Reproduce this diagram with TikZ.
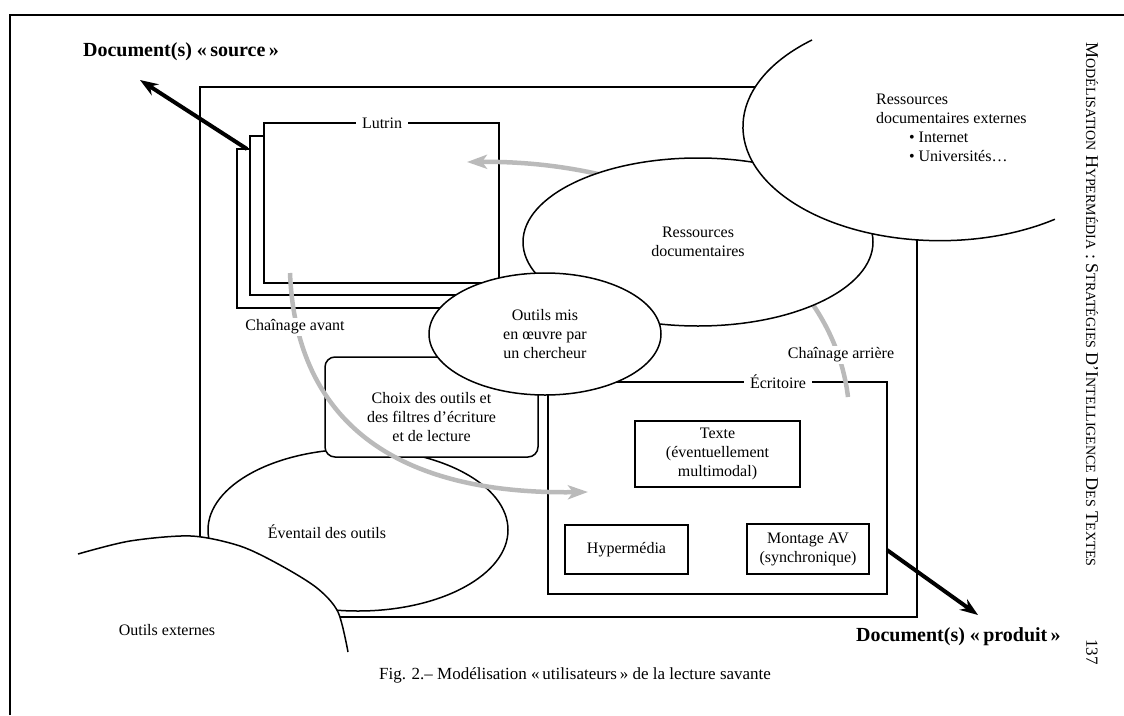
\documentclass[tikz,border=0pt]{standalone}
\usepackage{fontspec}
\setmainfont{Liberation Serif}
\usetikzlibrary{shapes.geometric,arrows.meta}

\newcommand{\smallcap}[1]{{\fontsize{14}{16}\selectfont #1}}

\begin{document}
\begin{tikzpicture}[x=1pt, y=-1pt, line width=1.5pt,
    every node/.style = {font=\fontsize{16}{19}\selectfont},
    ell/.style = {draw, ellipse, fill=white, inner sep=0pt, align=center},
    box/.style = {draw, fill=white, inner sep=0pt, align=center},
    tag/.style = {fill=white, inner xsep=6pt, inner ysep=2pt},
    chain/.style = {draw=black!27, line width=4.5pt, -{Stealth[length=20pt, width=14pt, inset=5pt]}},
    doc/.style = {font=\fontsize{20}{24}\selectfont\bfseries},
    docarrow/.style = {line width=4pt, -{Stealth[length=18pt, width=13pt]}}]
    \useasboundingbox (0,0) rectangle (1124,715);
    \draw[line width=2pt] (10,715) -- (10,15) -- (1124,15);
    \draw (200,87) rectangle (917,617);
    % lutrin
    \draw[fill=white] (237,149) rectangle (487,308);
    \draw[fill=white] (250,136) rectangle (493,295);
    \draw[fill=white] (264,123) rectangle (499,283);
    \node[tag] (1) at (382,123) {Lutrin};
    % ecritoire
    \draw (548,382) rectangle (887,594);
    \coordinate (a1) at (848,397);
    \coordinate (a2) at (467,162);
    \draw[chain] (a1) .. controls (830,250) and (660,160) .. (a2);
    \node[ell, minimum width=300pt, minimum height=162pt] (2) at (358,530) {};
    \node (3) at (327,532) {Éventail des outils};
    \node[box, rounded corners=10pt, minimum width=213pt, minimum height=100pt] (4) at (431.5,407) {};
    \node[align=center] (5) at (431.5,417) {Choix des outils et\\des filtres d’écriture\\et de lecture};
    \node[ell, minimum width=350pt, minimum height=168pt] (6) at (698,242) {Ressources\\documentaires};
    % ressources externes
    \fill[white] (812,40) arc[start angle=130.5, end angle=305.7, x radius=197pt, y radius=114pt] -- (1075,215) -- (1075,40) -- cycle;
    \draw (812,40) arc[start angle=130.5, end angle=305.7, x radius=197pt, y radius=114pt];
    \node[anchor=north west, align=left] (7) at (872,90) {Ressources\\documentaires externes\\\hspace*{33pt}• Internet\\\hspace*{33pt}• Universités…};
    \node[ell, minimum width=232pt, minimum height=122pt] (8) at (545,334) {Outils mis\\en œuvre par\\un chercheur};
    % outils externes
    \fill[white] plot[smooth] coordinates {(78,554) (130,541) (191,536) (240,546) (280,565) (317,588) (338,612) (348,652)} -- (348,700) -- (78,700) -- cycle;
    \draw plot[smooth] coordinates {(78,554) (130,541) (191,536) (240,546) (280,565) (317,588) (338,612) (348,652)};
    \node (9) at (167,630) {Outils externes};
    \node[box, minimum width=165pt, minimum height=66pt] (10) at (717.5,454) {Texte\\(éventuellement\\multimodal)};
    \node[box, minimum width=123pt, minimum height=49pt] (11) at (626.5,549.5) {Hypermédia};
    \node[box, minimum width=122pt, minimum height=50pt] (12) at (808,549) {Montage AV\\(synchronique)};
    \node[tag] (13) at (778,382) {Écritoire};
    \coordinate (b1) at (290,273);
    \coordinate (b2) at (588,492);
    \draw[chain] (b1) .. controls (295,400) and (370,495) .. (b2);
    \node[tag] (14) at (295,327) {Chaînage avant};
    \node[tag] (15) at (841,355) {Chaînage arrière};
    % documents
    \node[doc, anchor=west] (16) at (79,52) {Document(s) «\,source\,»};
    \node[doc, anchor=west] (17) at (852,637) {Document(s) «\,produit\,»};
    \coordinate (c1) at (247,149);
    \coordinate (c2) at (140,80);
    \draw[docarrow] (c1) -- (c2);
    \coordinate (c3) at (887,550);
    \coordinate (c4) at (978,615);
    \draw[docarrow] (c3) -- (c4);
    \node[anchor=west, font=\fontsize{17}{20}\selectfont] (18) at (375,675) {Fig. 2.– Modélisation «\,utilisateurs\,» de la lecture savante};
    \node[rotate=-90, anchor=west, inner sep=0pt, font=\fontsize{18}{20}\selectfont] (19) at (1092,42) {M\smallcap{ODÉLISATION} H\smallcap{YPERMÉDIA} : S\smallcap{TRATÉGIES} D’I\smallcap{NTELLIGENCE} D\smallcap{ES} T\smallcap{EXTES}};
    \node[rotate=-90, font=\fontsize{17}{20}\selectfont] (20) at (1092,652) {137};
\end{tikzpicture}
\end{document}
